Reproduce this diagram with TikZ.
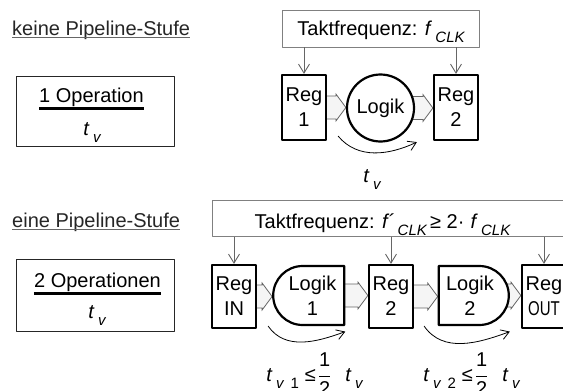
\documentclass[tikz,border=0pt]{standalone}
\usepackage{fontspec}
\setmainfont{Liberation Sans}
\usepackage{graphicx}
\usetikzlibrary{arrows.meta,calc,shapes.misc,backgrounds}
\newcommand\lowsub[1]{\,\raisebox{-7pt}{\fontsize{15}{15}\selectfont\itshape #1}}
\newcommand\tv{\textit{t}\lowsub{v}}
\newcommand\fatarrow[2]{\draw[fat] let \p1=(#1.center), \p2=(#2.west) in
  (\x1,\y1+11.5pt) -- (\x2-10pt,\y1+11.5pt) -- (\x2-10pt,\y1+13.5pt) -- (\x2,\y1)
  -- (\x2-10pt,\y1-13.5pt) -- (\x2-10pt,\y1-11.5pt) -- (\x1,\y1-11.5pt) -- cycle;}
\begin{document}
\begin{tikzpicture}[x=1pt,y=1pt,line join=round,font=\fontsize{20}{25}\selectfont,
    reg/.style={draw,line width=2.2pt,fill=white,minimum width=44pt,align=center,inner sep=0pt},
    logik/.style={draw,line width=2.2pt,fill=white,align=center,inner sep=0pt},
    clkbox/.style={draw=gray,line width=0.9pt,fill=white},
    clk/.style={draw=black!60,line width=0.9pt,-{Straight Barb[length=9pt,width=11pt]}},
    fat/.style={draw=black!60,line width=0.8pt,fill=black!4},
    laufzeit/.style={line width=0.8pt,-{Straight Barb[length=8pt,width=10pt]}},
    opbox/.style={draw=black!85,line width=1pt,minimum width=158pt},
    bruch/.style={line width=3pt},
    title/.style={anchor=base west,inner sep=0pt,text=black!85}]
\useasboundingbox (0,0) rectangle (563,-391);
\clip (0,0) rectangle (563,-391);
%keine Pipeline-Stufe
\node[title] (t1) at (12,-35) {keine Pipeline-Stufe};
\draw[black!60,line width=0.9pt] ([yshift=-2.5pt]t1.base west) -- ([yshift=-2.5pt]t1.base east);
\node[opbox,minimum height=70pt] (box1) at (95,-111) {};
\node[anchor=base,inner sep=0pt] (op1) at (91.5,-102) {1 Operation};
\draw[bruch] ([yshift=-6pt]op1.base west) -- ([yshift=-6pt]op1.base east);
\node[anchor=base,inner sep=0pt] (tv0) at (92,-135) {\tv};
\node[clkbox,minimum width=197pt,minimum height=37pt] (clk1) at (380.5,-28.5) {};
\node[anchor=base,inner sep=0pt] (f1) at (381,-35) {Taktfrequenz: \textit{f}\lowsub{CLK}};
\node[reg,minimum height=65pt] (r1) at (304,-107.5) {Reg\\1};
\node[reg,minimum height=65pt] (r2) at (456,-107.5) {Reg\\2};
\node[logik,circle,minimum size=67pt] (lg) at (380.5,-108) {Logik};
\draw[clk] (r1 |- clk1.south) -- (r1.north);
\draw[clk] (r2 |- clk1.south) -- (r2.north);
\draw[laufzeit] ([shift={(11pt,5pt)}]r1.south east) to[out=-50,in=205] ([shift={(-16pt,-1pt)}]r2.south west);
\node[anchor=base,inner sep=0pt] (tvtop) at (372,-182) {\tv};
%eine Pipeline-Stufe
\node[title] (t2) at (12,-227) {eine Pipeline-Stufe};
\draw[black!60,line width=0.9pt] ([yshift=-2.5pt]t2.base west) -- ([yshift=-2.5pt]t2.base east);
\node[opbox,minimum height=72pt] (box2) at (95,-295) {};
\node[anchor=base,inner sep=0pt] (op2) at (97.5,-287) {2 Operationen};
\draw[bruch] ([yshift=-6pt]op2.base west) -- ([yshift=-6pt]op2.base east);
\node[anchor=base,inner sep=0pt] (tv2) at (97,-318) {\tv};
\node[clkbox,minimum width=360pt,minimum height=36pt,anchor=north west] (clk2) at (212,-200) {};
\node[anchor=base,inner sep=0pt] (f2) at (382.5,-228) {Taktfrequenz: \textit{f´}\lowsub{CLK}\,≥ 2·\hspace{6pt}\textit{f}\lowsub{CLK}};
\node[reg,minimum height=63pt] (rin) at (234,-296.5) {Reg\\IN};
\node[logik,rounded rectangle,rounded rectangle right arc=none,minimum width=71pt,minimum height=59pt] (l1) at (312.5,-295.5) {Logik\\1};
\node[reg,minimum height=63pt] (r2b) at (391,-296.5) {Reg\\2};
\node[logik,rounded rectangle,rounded rectangle left arc=none,minimum width=70pt,minimum height=59pt] (l2) at (470,-295.5) {Logik\\2};
\node[reg,minimum height=63pt] (rout) at (544,-296.5) {Reg\\\scalebox{0.75}[1]{OUT}};
\draw[clk] (rin |- clk2.south) -- (rin.north);
\draw[clk] (r2b |- clk2.south) -- (r2b.north);
\draw[clk] (rout |- clk2.south) -- (rout.north);
\draw[laufzeit] ([shift={(11pt,3pt)}]rin.south east) to[out=-55,in=200] ($(l1.south -| l1.east)+(0,-5.5)$);
\draw[laufzeit] ([shift={(10pt,3pt)}]r2b.south east) to[out=-55,in=200] ($(l2.south -| l2.east)+(0,-5.5)$);
\node[anchor=base,inner sep=0pt] (tv1) at (314.5,-381) {\textit{t}\lowsub{v\hspace{7pt}\upshape 1}\hspace{6pt}≤\hspace{2pt}$\displaystyle\frac{\mbox{1}}{\mbox{2}}$\hspace{14pt}\tv};
\node[anchor=base,inner sep=0pt] (tv3) at (471.5,-381) {\textit{t}\lowsub{v\hspace{7pt}\upshape 2}\hspace{6pt}≤\hspace{2pt}$\displaystyle\frac{\mbox{1}}{\mbox{2}}$\hspace{14pt}\tv};
%Blockpfeile
\begin{scope}[on background layer]
\fatarrow{r1}{lg}
\fatarrow{lg}{r2}
\fatarrow{rin}{l1}
\fatarrow{l1}{r2b}
\fatarrow{r2b}{l2}
\fatarrow{l2}{rout}
\end{scope}
\end{tikzpicture}
\end{document}
